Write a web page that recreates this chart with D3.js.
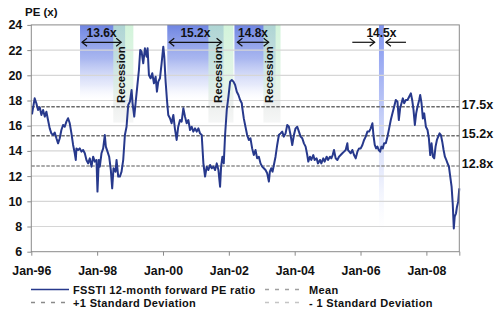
<!DOCTYPE html>
<html>
<head>
<meta charset="utf-8">
<script src="https://cdn.jsdelivr.net/npm/d3@7"></script>
<style>
  body { margin: 0; background: #fff; }
  svg { display: block; font-family: "Liberation Sans", Arial, sans-serif; }
</style>
</head>
<body>
<svg id="chart" width="500" height="323"></svg>
<script>
// FSSTI 12-month forward PE ratio (decimal year, PE multiple)
const years = [
  1996.021,1996.102,1996.153,1996.205,1996.256,1996.307,1996.358,1996.409,1996.458,1996.508,
  1996.559,1996.610,1996.661,1996.712,1996.763,1996.813,1996.864,1996.914,1996.965,1997.016,
  1997.066,1997.117,1997.168,1997.219,1997.270,1997.320,1997.351,1997.371,1997.422,1997.472,
  1997.523,1997.574,1997.625,1997.675,1997.726,1997.777,1997.828,1997.878,1997.929,1997.980,
  1998.010,1998.051,1998.081,1998.132,1998.183,1998.233,1998.264,1998.315,1998.365,1998.416,
  1998.457,1998.497,1998.558,1998.589,1998.640,1998.690,1998.741,1998.792,1998.843,1998.893,
  1998.944,1998.995,1999.046,1999.076,1999.127,1999.167,1999.218,1999.269,1999.309,1999.350,
  1999.400,1999.451,1999.502,1999.532,1999.573,1999.623,1999.674,1999.725,1999.776,1999.816,
  1999.857,1999.908,1999.958,2000.009,2000.039,2000.080,2000.121,2000.160,2000.212,2000.261,
  2000.314,2000.361,2000.415,2000.463,2000.516,2000.567,2000.618,2000.669,2000.719,2000.770,
  2000.821,2000.872,2000.922,2000.973,2001.024,2001.075,2001.125,2001.176,2001.227,2001.278,
  2001.328,2001.379,2001.430,2001.481,2001.531,2001.582,2001.633,2001.684,2001.734,2001.765,
  2001.805,2001.846,2001.886,2001.937,2001.988,2002.039,2002.089,2002.140,2002.191,2002.242,
  2002.292,2002.343,2002.394,2002.404,2002.454,2002.505,2002.556,2002.607,2002.657,2002.708,
  2002.759,2002.810,2002.860,2002.911,2002.962,2003.013,2003.063,2003.114,2003.165,2003.216,
  2003.246,2003.287,2003.327,2003.368,2003.418,2003.469,2003.520,2003.571,2003.621,2003.672,
  2003.723,2003.774,2003.824,2003.875,2003.926,2003.977,2004.027,2004.078,2004.129,2004.180,
  2004.230,2004.281,2004.332,2004.382,2004.413,2004.464,2004.504,2004.565,2004.606,2004.666,
  2004.707,2004.768,2004.809,2004.869,2004.910,2004.971,2005.012,2005.072,2005.113,2005.154,
  2005.194,2005.245,2005.296,2005.346,2005.397,2005.448,2005.499,2005.549,2005.600,2005.620,
  2005.661,2005.702,2005.752,2005.803,2005.854,2005.905,2005.955,2006.006,2006.057,2006.108,
  2006.158,2006.209,2006.260,2006.310,2006.361,2006.392,2006.432,2006.473,2006.513,2006.554,
  2006.595,2006.635,2006.676,2006.716,2006.767,2006.818,2006.869,2006.919,2006.970,2007.021,
  2007.071,2007.122,2007.163,2007.203,2007.244,2007.285,2007.325,2007.376,2007.427,2007.477,
  2007.528,2007.569,2007.609,2007.650,2007.690,2007.731,2007.782,2007.812,2007.853,2007.893,
  2007.934,2007.985,2008.035,2008.076,2008.117,2008.157,2008.198,2008.238,2008.279,2008.320,
  2008.360,2008.401,2008.441,2008.482,2008.523,2008.563,2008.604,2008.644,2008.685,2008.725,
  2008.766,2008.800,2008.833,2008.860,2008.900,2008.930,2008.965,2009.000
];
const pe = [
  16.90,18.17,17.78,17.25,17.46,16.85,17.25,16.72,17.11,16.45,
  15.79,15.39,15.26,15.45,15.00,14.60,15.00,15.66,16.06,15.92,
  16.32,16.59,16.19,15.39,14.47,13.81,13.28,14.20,14.07,14.20,
  13.94,14.07,13.81,13.28,13.01,13.41,12.75,13.54,13.15,13.28,
  10.77,13.28,12.75,13.81,14.20,15.26,14.34,13.94,13.54,12.48,
  11.03,12.62,12.35,13.28,11.96,11.96,12.35,13.28,15.26,15.92,
  17.64,17.91,18.83,17.78,16.72,17.78,19.10,20.42,22.01,21.88,
  20.95,22.14,21.48,22.14,20.02,19.76,20.16,19.36,19.89,18.70,
  19.50,19.76,20.95,22.27,21.48,19.50,18.04,16.85,16.59,16.19,
  16.85,15.79,14.87,15.92,16.45,16.32,17.38,16.72,16.19,16.45,
  15.66,15.92,15.53,15.79,15.53,15.79,15.39,15.26,13.01,11.96,
  12.75,12.48,12.88,12.62,12.75,12.48,13.01,12.48,11.16,12.75,
  13.54,13.01,15.26,17.25,18.30,19.50,19.63,19.50,19.23,18.70,
  18.44,18.04,17.78,17.51,16.58,15.92,15.26,14.87,15.00,14.20,
  13.67,14.07,13.41,13.54,13.01,12.75,12.62,12.48,12.22,11.56,
  12.35,12.62,12.35,12.88,13.54,14.47,15.26,15.39,15.53,15.13,
  15.39,16.06,15.92,15.26,14.47,15.26,15.79,15.92,15.53,15.13,
  15.00,14.60,14.34,13.67,13.15,13.54,13.28,13.67,13.28,13.41,
  13.01,13.28,13.01,13.41,13.15,13.54,13.28,13.54,13.41,13.67,
  14.07,13.41,13.28,13.54,13.67,13.81,13.94,14.07,14.60,14.07,
  13.94,13.81,14.07,13.67,13.41,13.94,14.20,14.20,14.47,14.87,
  15.13,15.53,15.53,15.79,16.19,15.26,14.47,14.20,14.34,14.07,
  13.94,14.34,14.20,14.60,14.60,15.13,15.79,16.45,16.98,17.51,
  18.04,17.91,16.45,17.38,17.78,18.17,17.78,18.04,18.04,18.30,
  18.57,18.04,17.25,16.06,16.98,17.51,18.04,18.44,17.78,16.58,
  16.98,15.92,15.66,15.00,13.67,14.60,13.54,13.41,14.34,14.87,
  15.13,15.39,15.26,14.73,14.07,13.54,13.28,13.01,12.75,11.95,
  11.16,9.84,7.85,8.78,9.05,9.57,9.95,11.03
];

// Axis ticks
const yTicks = [6, 8, 10, 12, 14, 16, 18, 20, 22, 24];
const xTicks = [1996, 1998, 2000, 2002, 2004, 2006, 2008];
const xTickLabels = ["Jan-96", "Jan-98", "Jan-00", "Jan-02", "Jan-04", "Jan-06", "Jan-08"];

// Reference levels: +1 SD, mean, -1 SD
const refLevels = [17.5, 15.2, 12.8];
const refLabels = ["17.5x", "15.2x", "12.8x"];
const refColors = ["#6a6a6a", "#6f6f6f", "#8e8e8e"];

// Highlighted periods with their average PE
const periodStart = [1997.48, 2000.13, 2002.17, 2006.56];
const periodEnd = [1998.85, 2001.84, 2003.42, 2006.71];
const periodLabels = ["13.6x", "15.2x", "14.8x", "14.5x"];
const arrowFrom = [1997.54, 2000.19, 2002.26];
const arrowTo = [1998.73, 2001.78, 2003.21];
// inward-pointing arrows around the narrow 2006 period
const pinchFrom = [2005.75, 2007.38];
const pinchTo = [2006.43, 2006.77];

// Recessions
const recessionStart = [1998.49, 2001.38, 2003.05];
const recessionEnd = [1999.10, 2002.14, 2003.57];

// Legend
const legendLabels = ["FSSTI 12-month forward PE ratio", "Mean", "+1 Standard Deviation", "- 1 Standard Deviation"];

const W = 500, H = 323;
const m = { top: 24.9, right: 40.7, bottom: 71.3, left: 31.3 };
const svg = d3.select("#chart");
svg.append("rect").attr("width", W).attr("height", H).attr("fill", "#fff");

const x = d3.scaleLinear().domain([1996, 2009]).range([m.left, W - m.right]);
const y = d3.scaleLinear().domain([6, 24]).range([H - m.bottom, m.top]);

const defs = svg.append("defs");
function vgrad(id, stops) {
  const g = defs.append("linearGradient").attr("id", id)
    .attr("x1", 0).attr("y1", 0).attr("x2", 0).attr("y2", 1);
  stops.forEach(s => g.append("stop").attr("offset", s[0]).attr("stop-color", s[1]).attr("stop-opacity", s[2]));
}
vgrad("blueFade", [[0, "#6f85e2", 1], [0.45, "#94a5ec", 0.8], [0.8, "#c8d1f6", 0.45], [1, "#e8ecfc", 0]]);
vgrad("narrowFade", [[0, "#7f93ef", 1], [0.35, "#a2b1f3", 0.8], [0.75, "#d2daf9", 0.45], [1, "#eef1fd", 0]]);
vgrad("recFade", [[0, "#c4f0cf", 0.75], [0.6, "#d6efdc", 0.65], [0.8, "#e4e8e6", 0.7], [1, "#eceeed", 0.5]]);

// Period bands
const bands = svg.append("g");
periodStart.forEach((s, i) => {
  const narrow = periodEnd[i] - s < 0.3;
  const bottom = narrow ? y(7.6) : y(18.05);
  bands.append("rect")
    .attr("x", x(s)).attr("y", y(24))
    .attr("width", x(periodEnd[i]) - x(s))
    .attr("height", bottom - y(24))
    .attr("fill", narrow ? "url(#narrowFade)" : "url(#blueFade)");
});
recessionStart.forEach((s, i) => {
  bands.append("rect")
    .attr("x", x(s)).attr("y", y(24))
    .attr("width", x(recessionEnd[i]) - x(s))
    .attr("height", y(16.25) - y(24))
    .attr("fill", "url(#recFade)");
});

// Horizontal gridlines
svg.append("g").selectAll("line")
  .data(yTicks.filter(v => v > 6 && v < 24))
  .join("line")
  .attr("x1", x(1996)).attr("x2", x(2009))
  .attr("y1", d => y(d)).attr("y2", d => y(d))
  .attr("stroke", "#d6d6d6").attr("stroke-width", 1.2);

// Mean and standard deviation lines
svg.append("g").selectAll("line")
  .data(refLevels)
  .join("line")
  .attr("x1", x(1996)).attr("x2", x(2009))
  .attr("y1", d => y(d)).attr("y2", d => y(d))
  .attr("stroke", (d, i) => refColors[i])
  .attr("stroke-width", 1.4)
  .attr("stroke-dasharray", "3.5,1.5");

// PE series
const series = years.map((t, i) => [t, pe[i]]);
svg.append("path")
  .datum(series)
  .attr("d", d3.line().x(d => x(d[0])).y(d => y(d[1])))
  .attr("fill", "none")
  .attr("stroke", "#27398c")
  .attr("stroke-width", 2)
  .attr("stroke-linejoin", "round");

// Plot frame
svg.append("rect")
  .attr("x", x(1996)).attr("y", y(24))
  .attr("width", x(2009) - x(1996)).attr("height", y(6) - y(24))
  .attr("fill", "none").attr("stroke", "#8a8a8a").attr("stroke-width", 1);

// Axes
const yAxis = svg.append("g")
  .attr("transform", `translate(${x(1996)},0)`)
  .call(d3.axisLeft(y).tickValues(yTicks).tickSize(4).tickPadding(5));
yAxis.select(".domain").remove();
yAxis.selectAll("line").attr("stroke", "#8a8a8a");
yAxis.selectAll("text")
  .attr("font-family", "Liberation Sans, Arial, sans-serif")
  .attr("font-size", 12.5).attr("font-weight", "bold").attr("fill", "#111");

const xAxis = svg.append("g")
  .attr("transform", `translate(0,${y(6)})`)
  .call(d3.axisBottom(x).tickValues(xTicks.concat([2009])).tickSize(4).tickPadding(11)
    .tickFormat(d => { const k = xTicks.indexOf(d); return k >= 0 ? xTickLabels[k] : ""; }));
xAxis.select(".domain").remove();
xAxis.selectAll("line").attr("stroke", "#8a8a8a");
xAxis.selectAll("text")
  .attr("font-family", "Liberation Sans, Arial, sans-serif")
  .attr("font-size", 12.3).attr("font-weight", "bold").attr("fill", "#111");

// Axis title
svg.append("text")
  .attr("x", 25).attr("y", 16)
  .attr("font-size", 11.5).attr("font-weight", "bold").attr("fill", "#111")
  .text("PE (x)");

// Right-hand level labels
svg.append("g").selectAll("text")
  .data(refLevels)
  .join("text")
  .attr("x", x(2009) + 2.5)
  .attr("y", d => y(d) + 2)
  .attr("font-size", 12.5).attr("font-weight", "bold").attr("fill", "#111")
  .text((d, i) => refLabels[i]);

// Period annotations
const ann = svg.append("g").attr("stroke", "#111").attr("stroke-width", 1.2).attr("fill", "none");
const arrowY = y(22.62);
function head(px, dir) {
  ann.append("path").attr("d", `M${px - dir * 5},${arrowY - 4}L${px},${arrowY}L${px - dir * 5},${arrowY + 4}`);
}
arrowFrom.forEach((a, i) => {
  ann.append("line").attr("x1", x(a)).attr("x2", x(arrowTo[i])).attr("y1", arrowY).attr("y2", arrowY);
  head(x(a), -1);
  head(x(arrowTo[i]), 1);
});
pinchFrom.forEach((a, i) => {
  ann.append("line").attr("x1", x(a)).attr("x2", x(pinchTo[i])).attr("y1", arrowY).attr("y2", arrowY);
  head(x(pinchTo[i]), pinchTo[i] > a ? 1 : -1);
});
svg.append("g").selectAll("text")
  .data(periodLabels)
  .join("text")
  .attr("x", (d, i) => i < arrowFrom.length ? x((arrowFrom[i] + arrowTo[i]) / 2) : x((periodStart[i] + periodEnd[i]) / 2))
  .attr("y", y(23.05))
  .attr("text-anchor", "middle")
  .attr("font-size", 12).attr("font-weight", "bold").attr("fill", "#111")
  .text(d => d);

// Recession labels
svg.append("g").selectAll("text")
  .data(recessionStart)
  .join("text")
  .attr("transform", (d, i) => `translate(${x((d + recessionEnd[i]) / 2) + 1.5},${y(20.05)}) rotate(-90)`)
  .attr("text-anchor", "middle")
  .attr("font-size", 11.3).attr("font-weight", "bold").attr("fill", "#111")
  .text("Recession");

// Legend
const legend = svg.append("g")
  .attr("font-size", 11).attr("font-weight", "bold").attr("fill", "#111")
  .attr("letter-spacing", 0.35);
const legendItems = [
  { col: 0, row: 0, stroke: "#27398c", dash: null, width: 1.6 },
  { col: 1, row: 0, stroke: "#a0a0a0", dash: "4,6", width: 1.3 },
  { col: 0, row: 1, stroke: "#8a8a8a", dash: "4,6", width: 1.3 },
  { col: 1, row: 1, stroke: "#c4c4c4", dash: "4,6", width: 1.3 }
];
legendItems.forEach((it, i) => {
  const lx = it.col === 0 ? 31 : 265;
  const ly = it.row === 0 ? 289.5 : 302.5;
  const ln = legend.append("line")
    .attr("x1", lx).attr("x2", lx + 38).attr("y1", ly).attr("y2", ly)
    .attr("stroke", it.stroke).attr("stroke-width", it.width);
  if (it.dash) ln.attr("stroke-dasharray", it.dash);
  legend.append("text")
    .attr("x", it.col === 0 ? 73 : 309)
    .attr("y", ly + 4)
    .text(legendLabels[i]);
});
</script>
</body>
</html>
